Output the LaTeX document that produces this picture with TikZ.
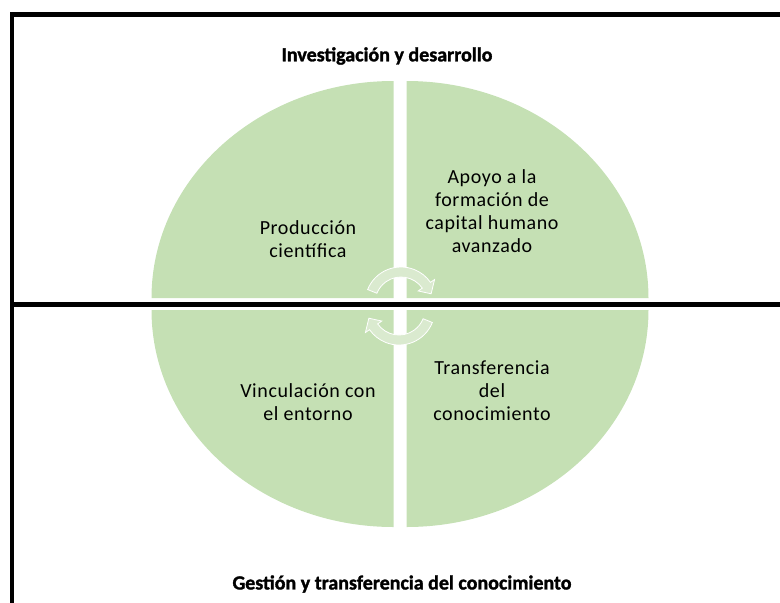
\documentclass[tikz,border=0pt]{standalone}
\usepackage{fontspec}
\setmainfont{Carlito}
\definecolor{quadgreen}{HTML}{C5E0B4}
\definecolor{cyclegreen}{HTML}{DAEACF}
\tikzset{
  frameline/.style={line width=4.5pt},
  quadtext/.style={align=center,font=\fontsize{20}{23}\selectfont\addfontfeatures{LetterSpace=3}},
  headtext/.style={font=\bfseries\fontsize{20}{24}\selectfont\addfontfeatures{FakeBold=1.5}},
  cyclearrow/.style={fill=cyclegreen,draw=white,line width=0.8pt}
}
\newcommand\cycleshape{%
  \path[cyclearrow] (-158:36) arc[start angle=-158,end angle=-35,radius=36]
    -- (-35:41) -- (-17:31.5) -- (-35:21) -- (-35:26)
    arc[start angle=-35,end angle=-158,radius=26] -- cycle;}

\begin{document}
\begin{tikzpicture}[x=1pt,y=-1pt]
  \useasboundingbox (0,0) rectangle (780,603);

  % four quarters of the oval
  \begin{scope}[fill=quadgreen]
    \fill (406.5,298) -- ++(242,0) arc[start angle=0,end angle=-90,x radius=242,y radius=217] -- cycle;
    \fill (393.5,298) -- ++(0,-217) arc[start angle=-90,end angle=-180,x radius=242,y radius=217] -- cycle;
    \fill (393.5,310) -- ++(-242,0) arc[start angle=180,end angle=90,x radius=242,y radius=217] -- cycle;
    \fill (406.5,310) -- ++(0,217) arc[start angle=90,end angle=0,x radius=242,y radius=217] -- cycle;
  \end{scope}

  % frame
  \draw[frameline] (780,14.5) -- (12,14.5) -- (12,603);
  \draw[frameline] (12,304.5) -- (780,304.5);

  % cycle arrows
  \begin{scope}[shift={(401,303)}]
    \cycleshape
  \end{scope}
  \begin{scope}[shift={(399,309)},rotate=180]
    \cycleshape
  \end{scope}

  \begin{scope}[every node/.style={quadtext}]
    \node (prod)   at (308,239) {Producción\\científica};
    \node (apoyo)  at (492,211) {Apoyo a la\\formación de\\capital humano\\avanzado};
    \node (vinc)   at (308,402) {Vinculación con\\el entorno};
    \node (transf) at (492,391) {Transferencia\\del\\conocimiento};
  \end{scope}

  \node[headtext] (invest)  at (387,56)  {Investigación y desarrollo};
  \node[headtext] (gestion) at (402,584) {Gestión y transferencia del conocimiento};

\end{tikzpicture}
\end{document}
